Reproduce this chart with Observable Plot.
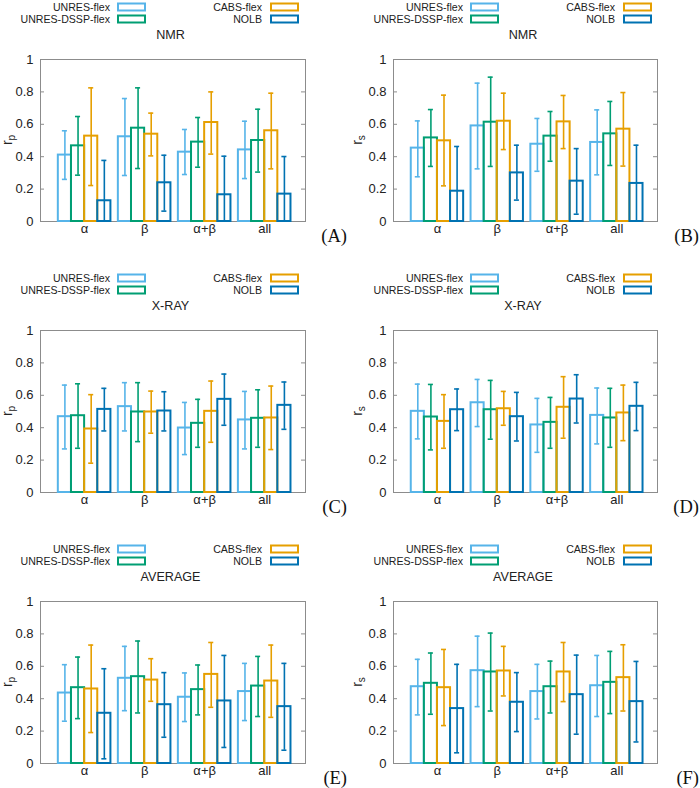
<!DOCTYPE html>
<html><head><meta charset="utf-8">
<script src="https://cdn.jsdelivr.net/npm/d3@7"></script>
<script src="https://cdn.jsdelivr.net/npm/@observablehq/plot@0.6"></script>
<style>
body{margin:0;background:#fff;}
#chart{position:relative;width:700px;height:788px;font-family:"Liberation Sans",Arial,sans-serif;overflow:hidden;background:#fff}
.abs{position:absolute;white-space:nowrap;line-height:1}
.legt{font-size:10.6px;color:#222;transform:translate(-100%,-50%)}
.sw{box-sizing:border-box;width:29px;height:9px;border:2px solid;transform:translateY(-50%)}
.ttl{font-size:12.6px;color:#222;transform:translate(-50%,-50%)}
.ylab{font-size:14px;color:#222;transform:translate(-50%,-50%) rotate(-90deg)}
.ylab sub{font-size:10px;vertical-align:-3px}
.plab{font-family:"Liberation Serif","Times New Roman",serif;font-size:18.5px;color:#111;transform:translate(-100%,-50%)}
</style></head><body><div id="chart"></div><script>
const categories = ["α", "β", "α+β", "all"];
const methods = ["UNRES-flex", "UNRES-DSSP-flex", "CABS-flex", "NOLB"];
const colors = ["#56B4E9", "#009E73", "#E69F00", "#0072B2"];
const yTicks = [0, 0.2, 0.4, 0.6, 0.8, 1];
const panelLetters = ["(A)", "(B)", "(C)", "(D)", "(E)", "(F)"];
const panelTitles = ["NMR", "NMR", "X-RAY", "X-RAY", "AVERAGE", "AVERAGE"];
const yLabelSubs = ["p", "s", "p", "s", "p", "s"];

// values per category (α, β, α+β, all), each: UNRES-flex, UNRES-DSSP-flex, CABS-flex, NOLB
const nmrPearsonMean = [0.41,0.467,0.527,0.128, 0.523,0.576,0.539,0.239, 0.428,0.49,0.611,0.165, 0.442,0.5,0.56,0.169];
const nmrPearsonHigh = [0.56,0.648,0.825,0.377, 0.759,0.825,0.669,0.409, 0.568,0.642,0.80,0.403, 0.619,0.693,0.792,0.401];
const nmrPearsonLow  = [0.26,0.286,0.222,-0.12, 0.284,0.327,0.405,0.064, 0.29,0.335,0.416,-0.07, 0.265,0.305,0.325,-0.06];

const nmrSpearmanMean = [0.453,0.516,0.498,0.187, 0.59,0.613,0.619,0.30, 0.477,0.527,0.615,0.249, 0.488,0.541,0.57,0.235];
const nmrSpearmanHigh = [0.621,0.691,0.78,0.463, 0.854,0.891,0.792,0.471, 0.636,0.679,0.778,0.45, 0.689,0.741,0.796,0.471];
const nmrSpearmanLow  = [0.276,0.34,0.22,-0.09, 0.325,0.34,0.444,0.132, 0.31,0.372,0.45,0.045, 0.288,0.346,0.342,0.0];

const xrayPearsonMean = [0.468,0.474,0.392,0.513, 0.53,0.497,0.497,0.503, 0.398,0.427,0.501,0.575, 0.448,0.458,0.46,0.538];
const xrayPearsonHigh = [0.663,0.671,0.604,0.643, 0.678,0.678,0.626,0.622, 0.556,0.575,0.688,0.731, 0.624,0.634,0.657,0.682];
const xrayPearsonLow  = [0.269,0.273,0.181,0.38, 0.38,0.314,0.366,0.38, 0.234,0.279,0.31,0.415, 0.269,0.279,0.265,0.39];

const xraySpearmanMean = [0.501,0.466,0.439,0.511, 0.554,0.511,0.517,0.468, 0.417,0.433,0.526,0.577, 0.476,0.46,0.491,0.532];
const xraySpearmanHigh = [0.669,0.667,0.604,0.639, 0.698,0.692,0.624,0.618, 0.581,0.587,0.715,0.727, 0.645,0.643,0.663,0.68];
const xraySpearmanLow  = [0.331,0.263,0.273,0.382, 0.407,0.329,0.415,0.318, 0.248,0.273,0.335,0.429, 0.30,0.279,0.32,0.382];

const avgPearsonMean = [0.435,0.468,0.46,0.31, 0.526,0.536,0.515,0.363, 0.409,0.456,0.55,0.386, 0.444,0.478,0.509,0.351];
const avgPearsonHigh = [0.61,0.657,0.731,0.585, 0.723,0.756,0.647,0.561, 0.559,0.608,0.747,0.667, 0.618,0.661,0.731,0.618];
const avgPearsonLow  = [0.261,0.277,0.191,0.029, 0.326,0.312,0.384,0.162, 0.259,0.30,0.347,0.099, 0.265,0.29,0.285,0.082];

const avgSpearmanMean = [0.474,0.495,0.468,0.339, 0.573,0.565,0.571,0.378, 0.444,0.474,0.565,0.425, 0.48,0.501,0.53,0.382];
const avgSpearmanHigh = [0.643,0.682,0.704,0.612, 0.786,0.805,0.723,0.561, 0.612,0.632,0.747,0.669, 0.667,0.692,0.733,0.63];
const avgSpearmanLow  = [0.30,0.304,0.234,0.066, 0.351,0.324,0.417,0.197, 0.275,0.312,0.382,0.181, 0.29,0.308,0.324,0.133];

const panels = [
  {mean: nmrPearsonMean, high: nmrPearsonHigh, low: nmrPearsonLow},
  {mean: nmrSpearmanMean, high: nmrSpearmanHigh, low: nmrSpearmanLow},
  {mean: xrayPearsonMean, high: xrayPearsonHigh, low: xrayPearsonLow},
  {mean: xraySpearmanMean, high: xraySpearmanHigh, low: xraySpearmanLow},
  {mean: avgPearsonMean, high: avgPearsonHigh, low: avgPearsonLow},
  {mean: avgSpearmanMean, high: avgSpearmanHigh, low: avgSpearmanLow}
];

// layout
const colLeft = [40, 393], colRight = [305, 657];
const rowTop = [59, 330, 601], rowBottom = [221, 492, 763];
const xDomain = [-0.735, 3.68];
const BW = 0.219, CAP = 0.042;
const MT = 10, MB = 24;
const chart = document.getElementById("chart");

function addDiv(cls, x, y, html, extra) {
  const d = document.createElement("div");
  d.className = "abs " + cls;
  d.style.left = x + "px"; d.style.top = y + "px";
  d.innerHTML = html;
  if (extra) Object.assign(d.style, extra);
  chart.appendChild(d);
  return d;
}

panels.forEach((p, i) => {
  const col = i % 2, row = Math.floor(i / 2);
  const L = colLeft[col], R = colRight[col], T = rowTop[row], B = rowBottom[row];
  const svgLeft = col * 350;
  const fw = R - L;
  const rows = [];
  categories.forEach((c, ci) => methods.forEach((m, mi) => {
    const k = ci * 4 + mi;
    rows.push({ci, mi, method: m, mean: p.mean[k], low: p.low[k], high: p.high[k], xc: ci + (mi - 1.5) * BW});
  }));
  const grey = "#8c8c8c";
  const svg = Plot.plot({
    width: 350, height: (B - T) + MT + MB,
    marginLeft: L - svgLeft, marginRight: svgLeft + 350 - R, marginTop: MT, marginBottom: MB,
    x: {domain: xDomain, axis: null, label: null},
    y: {domain: [0, 1], axis: null, label: null},
    color: {domain: methods, range: colors},
    style: {fontFamily: "'Liberation Sans', Arial, sans-serif", fontSize: "13px", background: "transparent", color: "#222", overflow: "visible"},
    marks: [
      Plot.frame({stroke: grey, strokeWidth: 1}),
      Plot.ruleY(yTicks, {stroke: grey, insetRight: fw - 4}),
      Plot.ruleY(yTicks, {stroke: grey, insetLeft: fw - 4}),
      Plot.axisY({ticks: yTicks, tickSize: 0, tickPadding: 7, label: null, tickFormat: d => `${+d.toFixed(1)}`}),
      Plot.axisX({ticks: [0, 1, 2, 3], tickSize: 0, tickPadding: 2, label: null, tickFormat: t => categories[t]}),
      Plot.rect(rows, {x1: d => d.xc - BW / 2, x2: d => d.xc + BW / 2, y1: () => 0, y2: "mean", stroke: "method", fill: "none", strokeWidth: 2}),
      Plot.ruleX(rows, {x: "xc", y1: "low", y2: "high", stroke: "method", strokeWidth: 1.6, clip: "frame"}),
      Plot.ruleY(rows, {y: "high", x1: d => d.xc - CAP, x2: d => d.xc + CAP, stroke: "method", strokeWidth: 1.6, clip: "frame"}),
      Plot.ruleY(rows, {y: "low", x1: d => d.xc - CAP, x2: d => d.xc + CAP, stroke: "method", strokeWidth: 1.6, clip: "frame"})
    ]
  });
  svg.style.position = "absolute";
  svg.style.left = svgLeft + "px";
  svg.style.top = (T - MT) + "px";
  chart.appendChild(svg);

  // legend
  methods.forEach((m, mi) => {
    const lc = Math.floor(mi / 2), lr = mi % 2;
    const tx = L + (lc ? 222 : 70);
    const sx = L + (lc ? 230 : 77);
    const ty = T - (lr ? 40.5 : 52.2);
    addDiv("legt", tx, ty, m);
    addDiv("sw", sx, ty + 0.5, "", {borderColor: colors[mi]});
  });
  addDiv("ttl", (L + R) / 2 - 2, T - 23.8, panelTitles[i]);
  addDiv("ylab", svgLeft + 8, (T + B) / 2, `r<sub>${yLabelSubs[i]}</sub>`);
  addDiv("plab", svgLeft + 347 + col * 2, B + 15, panelLetters[i]);
});
</script></body></html>
